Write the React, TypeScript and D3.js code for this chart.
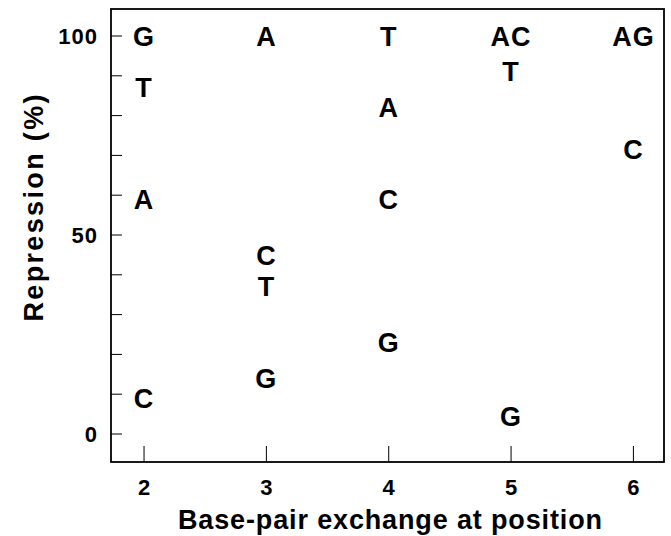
import React from "react";
import * as d3 from "d3";

// positions along the x axis
const positions = [2, 3, 4, 5, 6];

// base labels plotted at each position (top to bottom)
const bases = [
  ["G", "T", "A", "C"],
  ["A", "C", "T", "G"],
  ["T", "A", "C", "G"],
  ["AC", "T", "G"],
  ["AG", "C"],
];

// repression (%) for each label above
const repression = [
  [100, 87, 59, 9],
  [100, 45, 37, 14],
  [100, 82, 59, 23],
  [100, 91, 4.5],
  [100, 71.5],
];

const yTicks = [0, 10, 20, 30, 40, 50, 60, 70, 80, 90, 100];
const yTickLabels = [0, 50, 100];

const W = 671;
const H = 536;
const FONT = "'Liberation Sans', Arial, Helvetica, sans-serif";

const App = () => {
  const left = 111;
  const right = 664;
  const top = 9;
  const bottom = 462;

  const x = d3.scaleLinear().domain([1.73, 6.25]).range([left, right]);
  const y = d3.scaleLinear().domain([0, 100]).range([434, 36]);

  const points = positions.flatMap((p, i) =>
    bases[i].map((b, j) => ({ p, b, v: repression[i][j] }))
  );

  const letterSize = 27;

  return (
    <div style={{ position: "absolute", left: 0, top: 0 }}>
      <svg width={W} height={H} style={{ display: "block", background: "#fff" }}>
        {/* frame */}
        <rect
          x={left}
          y={top}
          width={right - left}
          height={bottom - top}
          fill="none"
          stroke="#000"
          strokeWidth={1.8}
        />

        {/* y ticks (inward) */}
        {yTicks.map((t) => (
          <line key={"yt" + t} x1={left} x2={left + 11} y1={y(t)} y2={y(t)} stroke="#000" strokeWidth={1} />
        ))}
        {yTickLabels.map((t) => (
          <text
            key={"yl" + t}
            x={98}
            y={y(t) + 8}
            textAnchor="end"
            fontFamily={FONT}
            fontWeight="bold"
            fontSize={22}
            letterSpacing={1}
          >
            {t}
          </text>
        ))}

        {/* x ticks (inward) */}
        {positions.map((p) => (
          <g key={"xt" + p}>
            <line x1={x(p)} x2={x(p)} y1={bottom} y2={bottom - 16} stroke="#000" strokeWidth={1} />
            <text
              x={x(p)}
              y={495}
              textAnchor="middle"
              fontFamily={FONT}
              fontWeight="bold"
              fontSize={22}
            >
              {p}
            </text>
          </g>
        ))}

        {/* letters */}
        {points.map((d, i) => (
          <text
            key={"pt" + i}
            x={x(d.p)}
            y={y(d.v) + letterSize * 0.358}
            textAnchor="middle"
            fontFamily={FONT}
            fontWeight="bold"
            fontSize={letterSize}
            letterSpacing={1}
          >
            {d.b}
          </text>
        ))}

        {/* axis titles */}
        <text
          x={390}
          y={529}
          textAnchor="middle"
          fontFamily={FONT}
          fontWeight="bold"
          fontSize={27}
          textLength={424}
          lengthAdjust="spacing"
        >
          Base-pair exchange at position
        </text>
        <text
          transform={`translate(43, 208) rotate(-90)`}
          textAnchor="middle"
          fontFamily={FONT}
          fontWeight="bold"
          fontSize={27}
          textLength={227}
          lengthAdjust="spacing"
        >
          Repression (%)
        </text>
      </svg>
    </div>
  );
};

export default App;
